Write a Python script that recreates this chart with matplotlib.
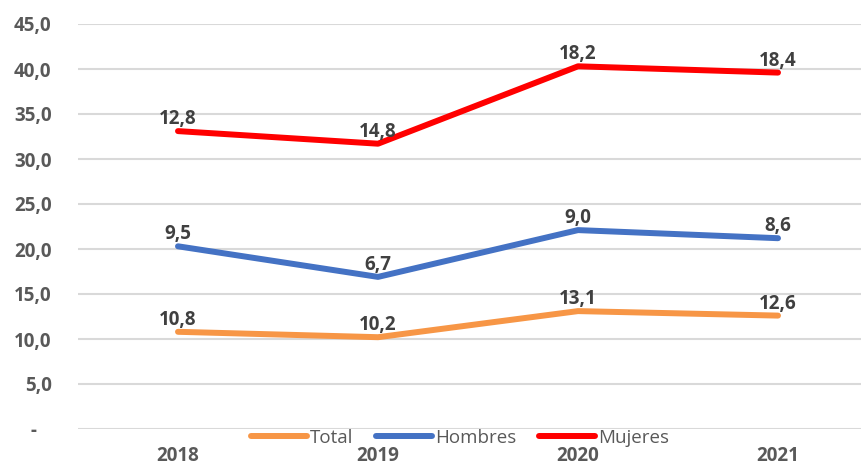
import numpy as np
import matplotlib
matplotlib.use("Agg")
import matplotlib.pyplot as plt
from matplotlib.lines import Line2D

years = ["2018", "2019", "2020", "2021"]
total = [10.8, 10.2, 13.1, 12.6]
hombres = [9.5, 6.7, 9.0, 8.6]
mujeres = [12.8, 14.8, 18.2, 18.4]
series_names = ["Total", "Hombres", "Mujeres"]
colors = ["#F79646", "#4472C4", "#FF0000"]
yticks = [0, 5, 10, 15, 20, 25, 30, 35, 40, 45]

plt.rcParams['font.family'] = ['Open Sans', 'DejaVu Sans']

fig = plt.figure(figsize=(8.61, 4.67), dpi=100)
ax = fig.add_axes([78/861, 1-429/467, 1-78/861, (429-24)/467])

x = np.arange(len(years))
vals = np.array([total, hombres, mujeres])
stacked = np.cumsum(vals, axis=0)

fs = 13.5
for i in range(3):
    ax.plot(x, stacked[i], color=colors[i], lw=4.3, solid_capstyle='round',
            solid_joinstyle='round', zorder=3, label=series_names[i])
    for j in range(len(years)):
        ax.annotate(f"{vals[i][j]:.1f}".replace('.', ','), (x[j], stacked[i][j]),
                    xytext=(0, 1.5), textcoords='offset points', ha='center', va='bottom',
                    fontsize=fs, fontweight='bold', color='#404040', zorder=4)

ax.set_xlim(-0.5, 3.415)
ax.set_ylim(0, 45)
ax.set_yticks(yticks)
ax.set_yticklabels([("-   " if v == 0 else f"{v:.1f}".replace('.', ',')) for v in yticks],
                   fontsize=fs, fontweight='bold', color='#595959')
ax.set_xticks(x)
ax.set_xticklabels(years, fontsize=fs, fontweight='bold', color='#595959')
ax.tick_params(axis='y', length=0, pad=19)
ax.tick_params(axis='x', length=0, pad=12.5)
ax.grid(axis='y', color='#D9D9D9', lw=1.5, zorder=0)
for s in ax.spines.values():
    s.set_visible(False)

handles = [Line2D([], [], color=c, lw=4.3, solid_capstyle='round') for c in colors]
fig.legend(handles, series_names, loc='center', bbox_to_anchor=(460/861, 1-438/467),
           ncol=3, frameon=False, fontsize=fs, labelcolor='#595959',
           handlelength=3.0, handletextpad=0.15, columnspacing=1.2,
           borderpad=0, borderaxespad=0)

fig.savefig("out.png", dpi=100)
